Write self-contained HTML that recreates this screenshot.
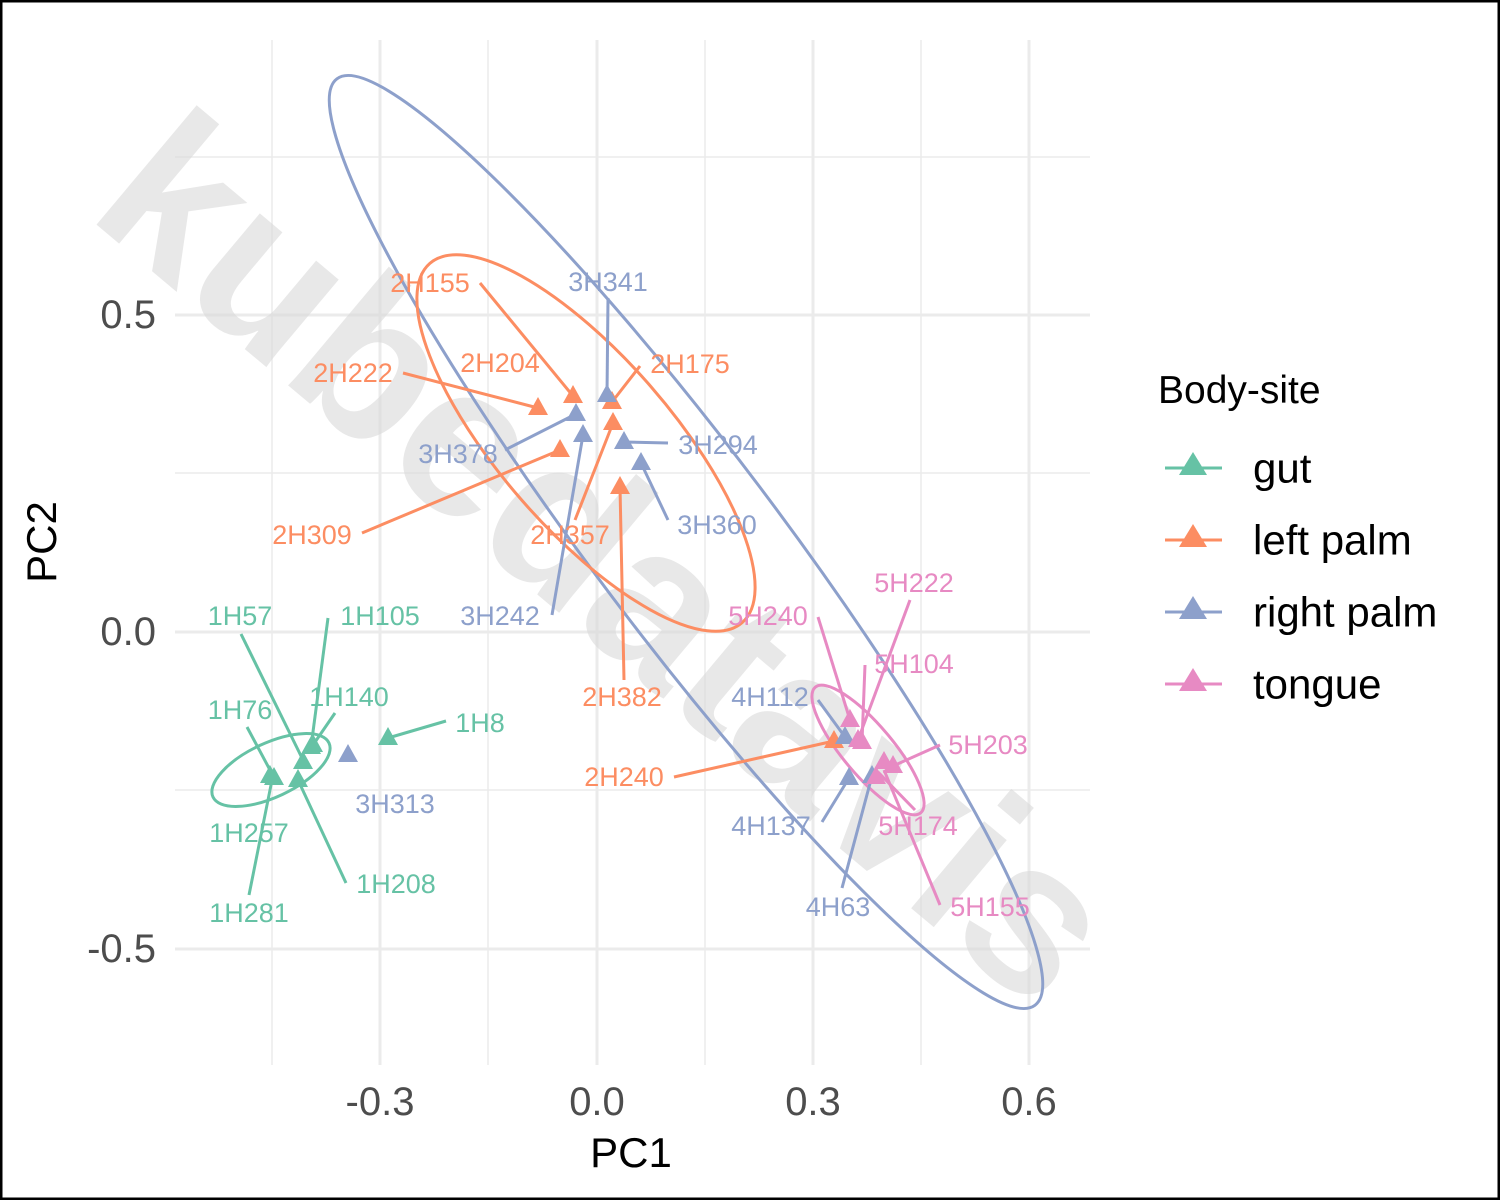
<!DOCTYPE html>
<html><head><meta charset="utf-8"><style>
html,body{margin:0;padding:0;background:#fff}
svg{display:block}
text{font-family:"Liberation Sans",Arial,sans-serif}
</style></head><body>
<svg width="1500" height="1200" viewBox="0 0 1500 1200" xmlns="http://www.w3.org/2000/svg">
<rect x="0" y="0" width="1500" height="1200" fill="#fff"/>
<g stroke="#ebebeb" stroke-width="1.5">
<line x1="272" y1="40" x2="272" y2="1065"/><line x1="488" y1="40" x2="488" y2="1065"/>
<line x1="705" y1="40" x2="705" y2="1065"/><line x1="921" y1="40" x2="921" y2="1065"/>
<line x1="175" y1="157" x2="1090" y2="157"/><line x1="175" y1="473" x2="1090" y2="473"/>
<line x1="175" y1="790" x2="1090" y2="790"/>
</g>
<g stroke="#ebebeb" stroke-width="3">
<line x1="380" y1="40" x2="380" y2="1065"/><line x1="597" y1="40" x2="597" y2="1065"/>
<line x1="813" y1="40" x2="813" y2="1065"/><line x1="1029" y1="40" x2="1029" y2="1065"/>
<line x1="175" y1="315" x2="1090" y2="315"/><line x1="175" y1="632" x2="1090" y2="632"/>
<line x1="175" y1="949" x2="1090" y2="949"/>
</g>
<text x="0" y="0" transform="translate(85,215) rotate(40)" font-size="215" font-weight="bold" fill="#d9d9d9" opacity="0.6">kubedatavis</text>
<g fill="none" stroke-width="3">
<ellipse cx="686" cy="542" rx="580" ry="92" transform="rotate(53 686 542)" stroke="#8DA0CB"/>
<ellipse cx="586" cy="443" rx="238" ry="86" transform="rotate(49 586 443)" stroke="#FC8D62"/>
<ellipse cx="271" cy="770" rx="64" ry="27" transform="rotate(-25 271 770)" stroke="#66C2A5"/>
<ellipse cx="868" cy="750" rx="82" ry="25" transform="rotate(50 868 750)" stroke="#E78AC3"/>
</g>
<g stroke-width="3">
<g stroke="#66C2A5">
<line x1="241" y1="634" x2="303" y2="760"/><line x1="328" y1="618" x2="311" y2="747"/>
<line x1="247" y1="727" x2="270" y2="770"/><line x1="335" y1="713" x2="313" y2="745"/>
<line x1="446" y1="721" x2="388" y2="738"/><line x1="346" y1="883" x2="298" y2="780"/>
<line x1="249" y1="895" x2="272" y2="780"/>
</g>
<g stroke="#FC8D62">
<line x1="480" y1="283" x2="573" y2="396"/><line x1="403" y1="373" x2="538" y2="408"/>
<line x1="640" y1="366" x2="612" y2="402"/><line x1="362" y1="533" x2="560" y2="450"/>
<line x1="575" y1="520" x2="613" y2="423"/><line x1="624" y1="680" x2="620" y2="487"/>
<line x1="674" y1="777" x2="834" y2="741"/>
</g>
<g stroke="#8DA0CB">
<line x1="608" y1="298" x2="607" y2="395"/><line x1="505" y1="450" x2="576" y2="414"/>
<line x1="668" y1="443" x2="624" y2="442"/><line x1="668" y1="520" x2="641" y2="463"/>
<line x1="552" y1="615" x2="583" y2="435"/><line x1="818" y1="700" x2="845" y2="737"/>
<line x1="822" y1="822" x2="849" y2="778"/><line x1="842" y1="888" x2="872" y2="776"/>
</g>
<g stroke="#E78AC3">
<line x1="910" y1="600" x2="858" y2="740"/><line x1="818" y1="617" x2="850" y2="720"/>
<line x1="865" y1="665" x2="862" y2="742"/><line x1="940" y1="745" x2="893" y2="766"/>
<line x1="940" y1="905" x2="884" y2="770"/><line x1="915" y1="810" x2="878" y2="772"/>
</g>
</g>
<defs><path id="t" d="M0,-11 L10,7 L-10,7 Z"/></defs>
<g fill="#66C2A5">
<use href="#t" x="270" y="776"/><use href="#t" x="274" y="778"/><use href="#t" x="303" y="762"/>
<use href="#t" x="311" y="747"/><use href="#t" x="313" y="745"/><use href="#t" x="298" y="780"/>
<use href="#t" x="388" y="738"/>
</g>
<g fill="#FC8D62">
<use href="#t" x="538" y="408"/><use href="#t" x="573" y="396"/><use href="#t" x="612" y="402"/>
<use href="#t" x="613" y="423"/><use href="#t" x="560" y="450"/><use href="#t" x="620" y="487"/>
<use href="#t" x="834" y="741"/>
</g>
<g fill="#8DA0CB">
<use href="#t" x="348" y="755"/><use href="#t" x="607" y="395"/><use href="#t" x="576" y="414"/>
<use href="#t" x="583" y="435"/><use href="#t" x="624" y="442"/><use href="#t" x="641" y="463"/>
<use href="#t" x="845" y="737"/><use href="#t" x="849" y="778"/><use href="#t" x="872" y="776"/>
</g>
<g fill="#E78AC3">
<use href="#t" x="850" y="720"/><use href="#t" x="862" y="742"/><use href="#t" x="858" y="740"/>
<use href="#t" x="893" y="766"/><use href="#t" x="884" y="762"/><use href="#t" x="876" y="777"/>
</g>
<g font-size="27" text-anchor="middle" dominant-baseline="central">
<g fill="#66C2A5">
<text x="240" y="616">1H57</text><text x="380" y="616">1H105</text><text x="240" y="710">1H76</text>
<text x="349" y="697">1H140</text><text x="480" y="723">1H8</text><text x="249" y="833">1H257</text>
<text x="396" y="884">1H208</text><text x="249" y="913">1H281</text>
</g>
<g fill="#FC8D62">
<text x="430" y="283">2H155</text><text x="353" y="373">2H222</text><text x="500" y="363">2H204</text>
<text x="690" y="364">2H175</text><text x="312" y="535">2H309</text><text x="570" y="535">2H357</text>
<text x="622" y="697">2H382</text><text x="624" y="777">2H240</text>
</g>
<g fill="#8DA0CB">
<text x="608" y="282">3H341</text><text x="458" y="454">3H378</text><text x="718" y="445">3H294</text>
<text x="717" y="525">3H360</text><text x="500" y="616">3H242</text><text x="395" y="804">3H313</text>
<text x="770" y="697">4H112</text><text x="771" y="826">4H137</text><text x="838" y="907">4H63</text>
</g>
<g fill="#E78AC3">
<text x="914" y="583">5H222</text><text x="768" y="616">5H240</text><text x="914" y="664">5H104</text>
<text x="988" y="745">5H203</text><text x="918" y="826">5H174</text><text x="990" y="907">5H155</text>
</g>
</g>
<g font-size="40" fill="#4d4d4d">
<g text-anchor="end" dominant-baseline="central">
<text x="156" y="315">0.5</text><text x="156" y="632">0.0</text><text x="156" y="949">-0.5</text>
</g>
<g text-anchor="middle">
<text x="380" y="1115">-0.3</text><text x="597" y="1115">0.0</text><text x="813" y="1115">0.3</text><text x="1029" y="1115">0.6</text>
</g>
</g>
<text x="631" y="1167" font-size="42" text-anchor="middle" fill="#000">PC1</text>
<text transform="translate(56,542) rotate(-90)" font-size="42" text-anchor="middle" fill="#000">PC2</text>
<text x="1158" y="403" font-size="39" fill="#000">Body-site</text>
<g stroke-width="3">
<line x1="1165" y1="468" x2="1222" y2="468" stroke="#66C2A5"/>
<line x1="1165" y1="540" x2="1222" y2="540" stroke="#FC8D62"/>
<line x1="1165" y1="612" x2="1222" y2="612" stroke="#8DA0CB"/>
<line x1="1165" y1="684" x2="1222" y2="684" stroke="#E78AC3"/>
</g>
<path d="M1193,452 L1207,475 L1179,475 Z" fill="#66C2A5"/>
<path d="M1193,524 L1207,547 L1179,547 Z" fill="#FC8D62"/>
<path d="M1193,596 L1207,619 L1179,619 Z" fill="#8DA0CB"/>
<path d="M1193,668 L1207,691 L1179,691 Z" fill="#E78AC3"/>
<g font-size="42" fill="#000" dominant-baseline="central">
<text x="1253" y="468">gut</text><text x="1253" y="540">left palm</text>
<text x="1253" y="612">right palm</text><text x="1253" y="684">tongue</text>
</g>
<rect x="1" y="1" width="1498" height="1198" fill="none" stroke="#000" stroke-width="3"/>
</svg>
</body></html>
